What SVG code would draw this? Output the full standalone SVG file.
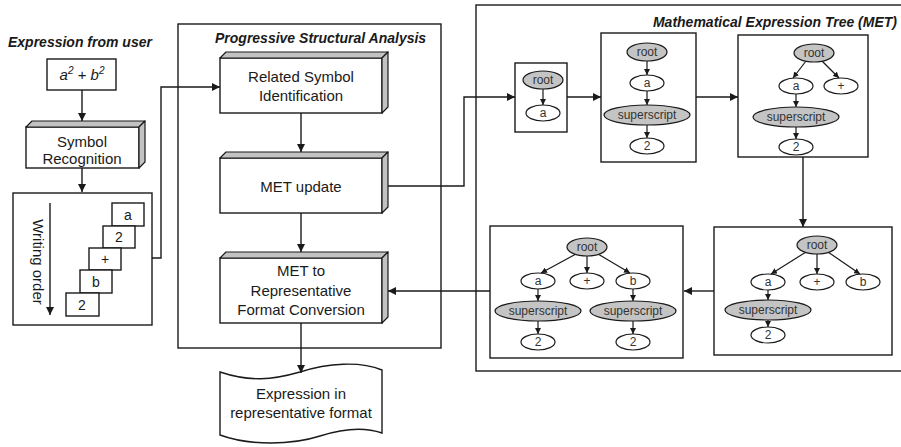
<svg xmlns="http://www.w3.org/2000/svg" width="901" height="447" viewBox="0 0 901 447">
  <defs>
    <marker id="arr" viewBox="0 0 10 10" refX="10" refY="5" markerUnits="userSpaceOnUse" markerWidth="9" markerHeight="8" orient="auto">
      <path d="M0,0 L10,5 L0,10 z" fill="#1a1a1a"/>
    </marker>
    <marker id="arrs" viewBox="0 0 10 10" refX="10" refY="5" markerUnits="userSpaceOnUse" markerWidth="6" markerHeight="6" orient="auto">
      <path d="M0,0 L10,5 L0,10 z" fill="#1a1a1a"/>
    </marker>
  </defs>
  <style>
    .box { fill: #fff; stroke: #1a1a1a; stroke-width: 1.4; }
    .frame { fill: none; stroke: #1a1a1a; stroke-width: 1.4; }
    .bevel { fill: #c2c2c2; stroke: #1a1a1a; stroke-width: 1.2; stroke-linejoin: round; }
    .lbl { font-family: "Liberation Sans", Arial, sans-serif; font-size: 15px; fill: #1a1a1a; text-anchor: middle; }
    .title { font-family: "Liberation Sans", Arial, sans-serif; font-size: 14px; font-weight: bold; font-style: italic; fill: #1a1a1a; }
    .sym { font-family: "Liberation Sans", Arial, sans-serif; font-size: 14px; fill: #1a1a1a; text-anchor: middle; }
    .conn { fill: none; stroke: #1a1a1a; stroke-width: 1.4; marker-end: url(#arr); }
    .edge { fill: none; stroke: #1a1a1a; stroke-width: 1.2; marker-end: url(#arrs); }
    .nw { fill: #fff; stroke: #1a1a1a; stroke-width: 1.2; }
    .ng { fill: #c4c4c4; stroke: #1a1a1a; stroke-width: 1.2; }
    .nt { font-family: "Liberation Sans", Arial, sans-serif; font-size: 12px; fill: #333; text-anchor: middle; }
  </style>

  <!-- Input expression -->
  <g id="input">
    <text class="title" x="8" y="47">Expression from user</text>
    <rect class="box" x="47" y="59" width="69" height="31"/>
    <text x="82" y="80" font-family="Liberation Sans, Arial, sans-serif" font-size="15" font-style="italic" fill="#1a1a1a" text-anchor="middle">a<tspan font-size="10" dy="-6">2</tspan><tspan dy="6"> + b</tspan><tspan font-size="10" dy="-6">2</tspan></text>
  </g>

  <!-- Symbol recognition -->
  <g id="symbol-recognition">
    <rect class="box" x="26" y="127" width="113" height="41"/>
    <polygon class="bevel" points="26,127 32,121 145,121 139,127"/>
    <polygon class="bevel" points="139,127 145,121 145,162 139,168"/>
    <text class="lbl" x="82" y="147">Symbol</text>
    <text class="lbl" x="82" y="164">Recognition</text>
  </g>

  <!-- Writing order of the recognised symbols -->
  <g id="writing-order">
    <rect class="box" x="13" y="193" width="139" height="132"/>
    <text class="lbl" transform="translate(33,262) rotate(90)" x="0" y="0">Writing order</text>
    <line class="conn" x1="50" y1="203" x2="50" y2="315"/>
    <rect class="box" x="112" y="203" width="32" height="23"/>
    <text class="sym" x="128" y="220">a</text>
    <rect class="box" x="103" y="226" width="32" height="22"/>
    <text class="sym" x="119" y="242">2</text>
    <rect class="box" x="89" y="248" width="32" height="22"/>
    <text class="sym" x="105" y="264">+</text>
    <rect class="box" x="80" y="270" width="32" height="23"/>
    <text class="sym" x="96" y="287">b</text>
    <rect class="box" x="66" y="293" width="33" height="23"/>
    <text class="sym" x="82" y="310">2</text>
  </g>

  <!-- Progressive structural analysis -->
  <g id="psa">
    <rect class="frame" x="178" y="24" width="263" height="324"/>
    <text class="title" x="215" y="43">Progressive Structural Analysis</text>
  </g>

  <g id="related-symbol">
    <rect class="box" x="220" y="58" width="162" height="55"/>
    <polygon class="bevel" points="220,58 226,52 388,52 382,58"/>
    <polygon class="bevel" points="382,58 388,52 388,107 382,113"/>
    <text class="lbl" x="301" y="82">Related Symbol</text>
    <text class="lbl" x="301" y="101">Identification</text>
  </g>

  <g id="met-update">
    <rect class="box" x="220" y="158" width="162" height="55"/>
    <polygon class="bevel" points="220,158 226,152 388,152 382,158"/>
    <polygon class="bevel" points="382,158 388,152 388,207 382,213"/>
    <text class="lbl" x="301" y="192">MET update</text>
  </g>

  <g id="met-conversion">
    <rect class="box" x="220" y="258" width="162" height="65"/>
    <polygon class="bevel" points="220,258 226,252 388,252 382,258"/>
    <polygon class="bevel" points="382,258 388,252 388,317 382,323"/>
    <text class="lbl" x="301" y="276">MET to</text>
    <text class="lbl" x="301" y="296">Representative</text>
    <text class="lbl" x="301" y="315">Format Conversion</text>
  </g>

  <g id="output">
    <path class="box" d="M220,372 C250,382 272,380 300,372 C328,363 360,361 382,370 L382,433 C365,427 345,428 320,436 C292,445 250,446 220,435 Z"/>
    <text class="lbl" x="301" y="399">Expression in</text>
    <text class="lbl" x="301" y="418">representative format</text>
  </g>

  <!-- Mathematical expression tree -->
  <g id="met">
    <rect class="frame" x="476" y="5" width="430" height="366"/>
    <text class="title" x="897" y="27" text-anchor="end">Mathematical Expression Tree (MET)</text>
  </g>

  <g id="tree-1">
    <rect class="box" x="515" y="63" width="52" height="69"/>
    <line class="edge" x1="543" y1="89" x2="543" y2="105"/>
    <ellipse class="ng" cx="543" cy="80" rx="20" ry="9"/>
    <text class="nt" x="543" y="84">root</text>
    <ellipse class="nw" cx="543" cy="113" rx="17" ry="8"/>
    <text class="nt" x="543" y="117">a</text>
  </g>

  <g id="tree-2">
    <rect class="box" x="601" y="33" width="95" height="129"/>
    <line class="edge" x1="647" y1="61" x2="647" y2="75"/>
    <line class="edge" x1="647" y1="91" x2="647" y2="105"/>
    <line class="edge" x1="647" y1="125" x2="647" y2="138"/>
    <ellipse class="ng" cx="647" cy="52" rx="20" ry="9"/>
    <text class="nt" x="647" y="56">root</text>
    <ellipse class="nw" cx="647" cy="83" rx="17" ry="8"/>
    <text class="nt" x="647" y="87">a</text>
    <ellipse class="ng" cx="647" cy="115" rx="43" ry="10"/>
    <text class="nt" x="647" y="119">superscript</text>
    <ellipse class="nw" cx="647" cy="146" rx="17" ry="8"/>
    <text class="nt" x="647" y="150">2</text>
  </g>

  <g id="tree-3">
    <rect class="box" x="738" y="35" width="130" height="122"/>
    <line class="edge" x1="806" y1="61" x2="793" y2="78"/>
    <line class="edge" x1="822" y1="61" x2="839" y2="78"/>
    <line class="edge" x1="796" y1="94" x2="796" y2="107"/>
    <line class="edge" x1="796" y1="127" x2="796" y2="139"/>
    <ellipse class="ng" cx="814" cy="53" rx="20" ry="9"/>
    <text class="nt" x="814" y="57">root</text>
    <ellipse class="nw" cx="796" cy="86" rx="17" ry="8"/>
    <text class="nt" x="796" y="90">a</text>
    <ellipse class="nw" cx="841" cy="86" rx="17" ry="8"/>
    <text class="nt" x="841" y="90">+</text>
    <ellipse class="ng" cx="796" cy="117" rx="43" ry="10"/>
    <text class="nt" x="796" y="121">superscript</text>
    <ellipse class="nw" cx="796" cy="147" rx="17" ry="8"/>
    <text class="nt" x="796" y="151">2</text>
  </g>

  <g id="tree-4">
    <rect class="box" x="714" y="227" width="178" height="128"/>
    <line class="edge" x1="806" y1="252" x2="771" y2="274"/>
    <line class="edge" x1="817" y1="254" x2="817" y2="274"/>
    <line class="edge" x1="828" y1="252" x2="860" y2="274"/>
    <line class="edge" x1="768" y1="290" x2="768" y2="300"/>
    <line class="edge" x1="768" y1="320" x2="768" y2="327"/>
    <ellipse class="ng" cx="817" cy="245" rx="20" ry="9"/>
    <text class="nt" x="817" y="249">root</text>
    <ellipse class="nw" cx="768" cy="282" rx="17" ry="8"/>
    <text class="nt" x="768" y="286">a</text>
    <ellipse class="nw" cx="817" cy="282" rx="17" ry="8"/>
    <text class="nt" x="817" y="286">+</text>
    <ellipse class="nw" cx="863" cy="282" rx="17" ry="8"/>
    <text class="nt" x="863" y="286">b</text>
    <ellipse class="ng" cx="768" cy="310" rx="43" ry="10"/>
    <text class="nt" x="768" y="314">superscript</text>
    <ellipse class="nw" cx="768" cy="335" rx="17" ry="8"/>
    <text class="nt" x="768" y="339">2</text>
  </g>

  <g id="tree-5">
    <rect class="box" x="490" y="226" width="193" height="132"/>
    <line class="edge" x1="576" y1="254" x2="541" y2="273"/>
    <line class="edge" x1="587" y1="256" x2="587" y2="273"/>
    <line class="edge" x1="598" y1="254" x2="630" y2="273"/>
    <line class="edge" x1="538" y1="289" x2="538" y2="301"/>
    <line class="edge" x1="633" y1="289" x2="633" y2="301"/>
    <line class="edge" x1="538" y1="321" x2="538" y2="334"/>
    <line class="edge" x1="633" y1="321" x2="633" y2="334"/>
    <ellipse class="ng" cx="587" cy="247" rx="20" ry="9"/>
    <text class="nt" x="587" y="251">root</text>
    <ellipse class="nw" cx="538" cy="281" rx="17" ry="8"/>
    <text class="nt" x="538" y="285">a</text>
    <ellipse class="nw" cx="587" cy="281" rx="17" ry="8"/>
    <text class="nt" x="587" y="285">+</text>
    <ellipse class="nw" cx="633" cy="281" rx="17" ry="8"/>
    <text class="nt" x="633" y="285">b</text>
    <ellipse class="ng" cx="538" cy="311" rx="43" ry="10"/>
    <text class="nt" x="538" y="315">superscript</text>
    <ellipse class="ng" cx="633" cy="311" rx="43" ry="10"/>
    <text class="nt" x="633" y="315">superscript</text>
    <ellipse class="nw" cx="538" cy="342" rx="17" ry="8"/>
    <text class="nt" x="538" y="346">2</text>
    <ellipse class="nw" cx="633" cy="342" rx="17" ry="8"/>
    <text class="nt" x="633" y="346">2</text>
  </g>

  <!-- Connectors -->
  <g id="connectors">
    <line class="conn" x1="82" y1="90" x2="82" y2="121"/>
    <line class="conn" x1="82" y1="168" x2="82" y2="192"/>
    <path class="conn" d="M152,258 H161 V87 H220"/>
    <line class="conn" x1="301" y1="113" x2="301" y2="152"/>
    <line class="conn" x1="301" y1="213" x2="301" y2="252"/>
    <path class="conn" d="M388,186 H464 V97 H515"/>
    <line class="conn" x1="567" y1="97" x2="601" y2="97"/>
    <line class="conn" x1="696" y1="97" x2="738" y2="97"/>
    <line class="conn" x1="803" y1="157" x2="803" y2="227"/>
    <line class="conn" x1="714" y1="291" x2="684" y2="291"/>
    <line class="conn" x1="490" y1="291" x2="388" y2="291"/>
    <line class="conn" x1="301" y1="323" x2="301" y2="373"/>
  </g>
</svg>
